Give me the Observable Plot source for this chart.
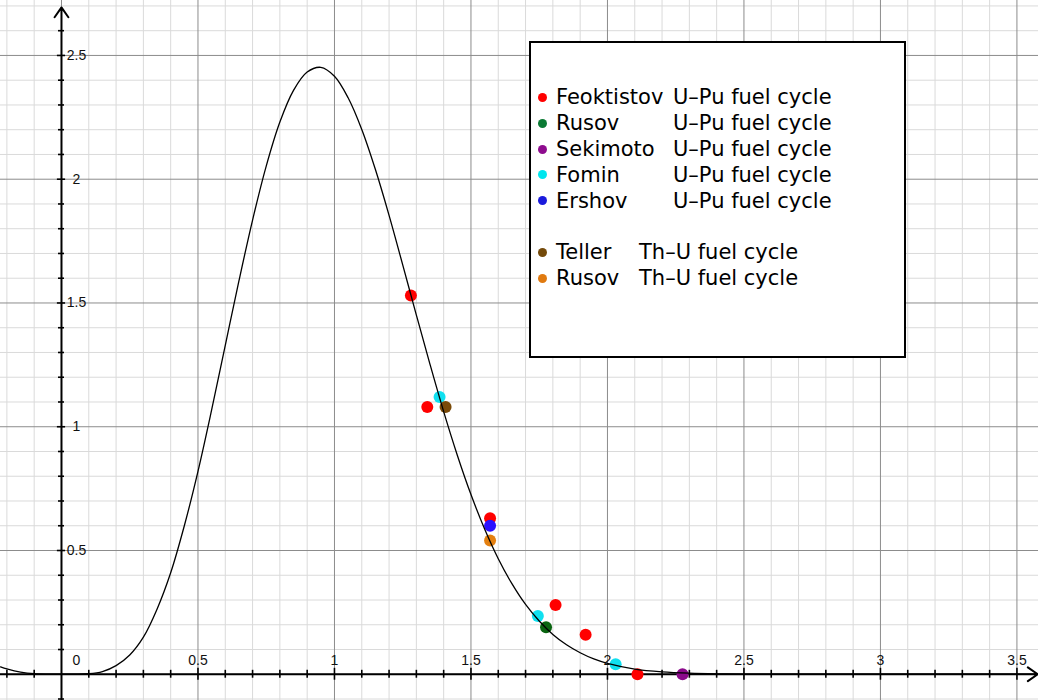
<!DOCTYPE html>
<html>
<head>
<meta charset="utf-8">
<script src="https://cdn.jsdelivr.net/npm/d3@7"></script>
<script src="https://cdn.jsdelivr.net/npm/@observablehq/plot@0.6"></script>
<style>
  html, body { margin: 0; padding: 0; background: #fff; }
  #wrap { position: relative; width: 1038px; height: 700px; overflow: hidden; }
  #legend { position: absolute; left: 529px; top: 41px; width: 377px; height: 317px;
            box-sizing: border-box; border: 2px solid #000; background: #fff;
            font-family: "DejaVu Sans", sans-serif; font-size: 21px; color: #000; }
  #legend .dot { position: absolute; width: 9px; height: 9px; border-radius: 50%; }
  #legend .t { position: absolute; white-space: pre; line-height: 26px; }
</style>
</head>
<body>
<div id="wrap"></div>
<script>
// ---- Curve ----
const curveX = [-0.223,-0.2,-0.15,-0.1,-0.05,0,0.05,0.1,0.15,0.2,0.25,0.3,0.35,0.4,0.45,0.5,0.55,0.6,0.65,0.7,0.75,0.8,0.85,0.9,0.95,1.0,1.05,1.1,1.15,1.2,1.25,1.3,1.35,1.4,1.45,1.5,1.55,1.6,1.65,1.7,1.75,1.8,1.85,1.9,1.95,2.0,2.1,2.2,2.3,2.4,2.5,2.7,3.0,3.3,3.58];
const curveY = [0.03,0.022,0.009,0.002,0.0002,0,0.0002,0.002,0.011,0.035,0.078,0.15,0.263,0.41,0.6,0.82,1.068,1.329,1.589,1.835,2.053,2.231,2.359,2.433,2.452,2.416,2.329,2.201,2.039,1.854,1.654,1.451,1.252,1.061,0.885,0.726,0.587,0.467,0.366,0.282,0.215,0.161,0.119,0.087,0.062,0.044,0.021,0.0097,0.0042,0.0017,0.0007,0.0001,0,0,0];

// ---- Points (series) ----
const feoktistovX = [1.28,1.34,1.57,1.81,1.92,2.11];
const feoktistovY = [1.53,1.08,0.63,0.28,0.16,0.0];
const fominX = [1.385,1.745,2.03];
const fominY = [1.12,0.235,0.04];
const rusovUPuX = [1.775];
const rusovUPuY = [0.19];
const sekimotoX = [2.275];
const sekimotoY = [0.0];
const ershovX = [1.57];
const ershovY = [0.6];
const tellerX = [1.407];
const tellerY = [1.08];
const rusovThUX = [1.57];
const rusovThUY = [0.54];

// ---- Legend ----
const legendNames  = ["Feoktistov","Rusov","Sekimoto","Fomin","Ershov","Teller","Rusov"];
const legendCycles = ["U–Pu fuel cycle","U–Pu fuel cycle","U–Pu fuel cycle","U–Pu fuel cycle","U–Pu fuel cycle","Th–U fuel cycle","Th–U fuel cycle"];
const legendColors = ["#ff0000","#0b7a34","#8e0c8e","#00e6ee","#1a1adc","#744a0a","#e07a10"];

// ---- Tick labels ----
const xTickLabels = [0.5,1,1.5,2,2.5,3,3.5];
const yTickLabels = [0.5,1,1.5,2,2.5];

const colors = {
  feoktistov: "#ff0000", rusovUPu: "#0a6410", sekimoto: "#8b0a8b",
  fomin: "#10e0f0", ershov: "#2a10ff", teller: "#7a4a08", rusovThU: "#e48010"
};

const series = [
  ["feoktistov", feoktistovX, feoktistovY],
  ["fomin", fominX, fominY],
  ["rusovUPu", rusovUPuX, rusovUPuY],
  ["sekimoto", sekimotoX, sekimotoY],
  ["ershov", ershovX, ershovY],
  ["teller", tellerX, tellerY],
  ["rusovThU", rusovThUX, rusovThUY]
];
const points = series.flatMap(([k, xs, ys]) => xs.map((x, i) => ({key: k, x, y: ys[i]})));
const curve = curveX.map((x, i) => ({x, y: curveY[i]}));

const xMin = -0.2234, xMax = 3.579, yMin = -0.106, yMax = 2.722;
const minorX = d3.range(-2, 36).map(i => i / 10).filter(v => Math.round(v * 10) % 5 !== 0);
const majorX = d3.range(0, 8).map(i => i / 2);
const minorY = d3.range(-1, 28).map(i => i / 10).filter(v => Math.round(v * 10) % 5 !== 0);
const majorY = d3.range(0, 6).map(i => i / 2);
const tickX = d3.range(-2, 36).map(i => i / 10).filter(v => Math.abs(v) > 1e-9);
const tickY = d3.range(-1, 27).map(i => i / 10).filter(v => Math.abs(v) > 1e-9);

const font = "'Liberation Sans', Arial, Helvetica, sans-serif";

const chart = Plot.plot({
  width: 1038, height: 700,
  marginLeft: 0, marginRight: 0, marginTop: 0, marginBottom: 0,
  x: {domain: [xMin, xMax], axis: null},
  y: {domain: [yMin, yMax], axis: null},
  style: {background: "#fff"},
  marks: [
    Plot.ruleX(minorX, {stroke: "#dadada", strokeWidth: 1}),
    Plot.ruleY(minorY, {stroke: "#dadada", strokeWidth: 1}),
    Plot.ruleX(majorX, {stroke: "#8c8c8c", strokeWidth: 1}),
    Plot.ruleY(majorY, {stroke: "#8c8c8c", strokeWidth: 1}),
    // axis lines with arrow heads
    Plot.arrow([{x1: xMin, y1: 0, x2: 3.576, y2: 0}], {x1: "x1", y1: "y1", x2: "x2", y2: "y2", stroke: "#000", strokeWidth: 2, headLength: 9, headAngle: 70}),
    Plot.arrow([{x1: 0, y1: yMin, x2: 0, y2: 2.694}], {x1: "x1", y1: "y1", x2: "x2", y2: "y2", stroke: "#000", strokeWidth: 2, headLength: 9, headAngle: 70}),
    // ticks on x axis
    Plot.ruleX(tickX, {y1: d => (Math.round(d * 10) % 5 === 0 ? -0.024 : -0.016), y2: d => (Math.round(d * 10) % 5 === 0 ? 0.024 : 0.016), stroke: "#000", strokeWidth: 1.6}),
    // ticks on y axis
    Plot.ruleY(tickY, {x1: d => (Math.round(d * 10) % 5 === 0 ? -0.015 : -0.011), x2: d => (Math.round(d * 10) % 5 === 0 ? 0.015 : 0.011), stroke: "#000", strokeWidth: 1.6}),
    // tick labels
    Plot.text(xTickLabels, {x: d => d, y: 0, dy: -14, text: d => String(d), fontSize: 14, fontFamily: font, fill: "#111"}),
    Plot.text(yTickLabels, {x: 0, y: d => d, dx: 15, text: d => String(d), fontSize: 14, fontFamily: font, fill: "#111"}),
    Plot.text(["0"], {x: 0, y: 0, dx: 15, dy: -14, text: d => d, fontSize: 14, fontFamily: font, fill: "#111"}),
    // data points
    Plot.dot(points, {x: "x", y: "y", r: 6, fill: d => colors[d.key], stroke: "none"}),
    // curve
    Plot.line(curve, {x: "x", y: "y", curve: "catmull-rom", stroke: "#000", strokeWidth: 1.3})
  ]
});

const wrap = document.getElementById("wrap");
wrap.appendChild(chart);

// legend box
const legend = document.createElement("div");
legend.id = "legend";
const rowTop = 56.3, rowStep = 25.85;
legendNames.forEach((name, i) => {
  const k = i < 5 ? i : i + 1;
  const cy = rowTop + k * rowStep - 2;
  const dot = document.createElement("div");
  dot.className = "dot";
  dot.style.background = legendColors[i];
  dot.style.left = (13 - 4.5 - 2) + "px";
  dot.style.top = (cy - 4.5) + "px";
  legend.appendChild(dot);
  const t1 = document.createElement("div");
  t1.className = "t";
  t1.textContent = name;
  t1.style.left = (27 - 2) + "px";
  t1.style.top = (cy - 13) + "px";
  legend.appendChild(t1);
  const t2 = document.createElement("div");
  t2.className = "t";
  t2.textContent = legendCycles[i];
  t2.style.left = ((i < 5 ? 144 : 110) - 2) + "px";
  t2.style.top = (cy - 13) + "px";
  legend.appendChild(t2);
});
wrap.appendChild(legend);
</script>
</body>
</html>
